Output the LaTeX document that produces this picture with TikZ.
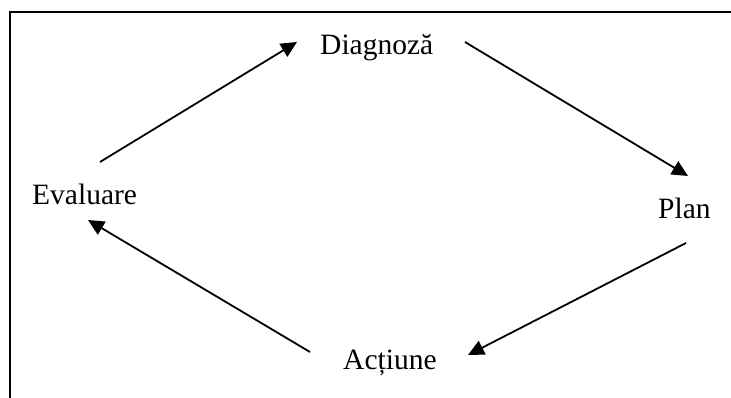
\documentclass[tikz,border=0pt]{standalone}
\usepackage{fontspec}
\setmainfont{Liberation Serif}
\usetikzlibrary{arrows.meta}
\begin{document}
\begin{tikzpicture}[x=1pt,y=-1pt,
  lbl/.style={anchor=base west,inner sep=0pt,font=\fontsize{29.5}{34}\selectfont},
  arr/.style={line width=1.8pt,-{Triangle[length=16pt,width=15pt]}},
  frame/.style={line width=2.2pt}]
\useasboundingbox (0,0) rectangle (731,398);
\draw[frame] (10,398) -- (10,12) -- (731,12);
\node[lbl] (diag) at (320,55) {Diagnoză};
\node[lbl] (plan) at (658,219) {Plan};
\node[lbl] (eval) at (32,205) {Evaluare};
\node[lbl] (act) at (343,369) {Acțiune};
\coordinate (e1) at (100,162); \coordinate (d1) at (297,42);
\coordinate (d2) at (465,42); \coordinate (p1) at (688,176);
\coordinate (p2) at (686,243); \coordinate (a1) at (468,355);
\coordinate (a2) at (310,352); \coordinate (e2) at (88,220);
\draw[arr] (e1) -- (d1);
\draw[arr] (d2) -- (p1);
\draw[arr] (p2) -- (a1);
\draw[arr] (a2) -- (e2);
\end{tikzpicture}
\end{document}
